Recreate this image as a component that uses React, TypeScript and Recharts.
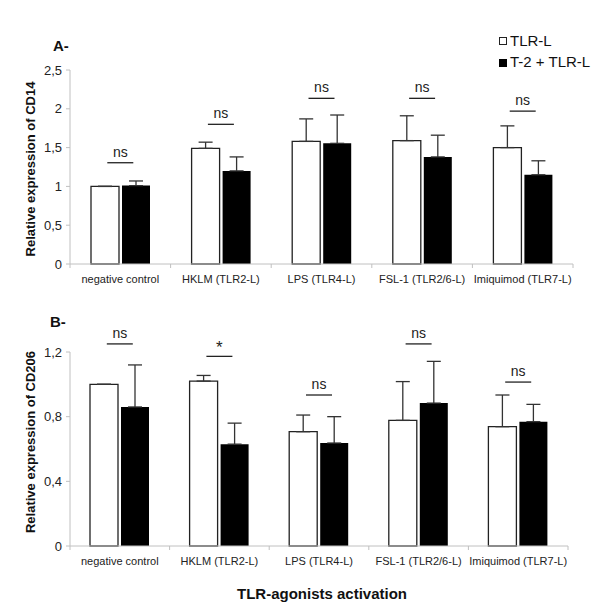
import React from 'react'
import { BarChart, Bar, XAxis, YAxis, ErrorBar, ReferenceDot } from 'recharts'

const categories = ['negative control', 'HKLM (TLR2-L)', 'LPS (TLR4-L)', 'FSL-1 (TLR2/6-L)', 'Imiquimod (TLR7-L)']

// panel A - CD14
const cd14Tlr = [1.0, 1.49, 1.58, 1.59, 1.5]
const cd14TlrErr = [0, 0.08, 0.29, 0.32, 0.28]
const cd14T2 = [1.01, 1.2, 1.555, 1.38, 1.15]
const cd14T2Err = [0.06, 0.18, 0.365, 0.28, 0.18]
const cd14Sig = ['ns', 'ns', 'ns', 'ns', 'ns']
const cd14SigLevel = [1.305, 1.8, 2.135, 2.135, 1.97]
const cd14Ticks = [0, 0.5, 1, 1.5, 2, 2.5]

// panel B - CD206
const cd206Tlr = [1.0, 1.02, 0.707, 0.777, 0.738]
const cd206TlrErr = [0, 0.035, 0.103, 0.24, 0.196]
const cd206T2 = [0.86, 0.63, 0.637, 0.884, 0.769]
const cd206T2Err = [0.26, 0.13, 0.163, 0.258, 0.107]
const cd206Sig = ['ns', '*', 'ns', 'ns', 'ns']
const cd206SigLevel = [1.25, 1.173, 0.934, 1.25, 1.014]
const cd206Ticks = [0, 0.4, 0.8, 1.2]

const FONT = '"Liberation Sans", Arial, sans-serif'

const buildRows = (tlr: number[], tlrErr: number[], t2: number[], t2Err: number[]) =>
  categories.map((name, i) => ({
    name,
    tlr: tlr[i],
    tlrErr: [0, tlrErr[i]],
    t2: t2[i],
    t2Err: [0, t2Err[i]],
  }))

const commaFmt = (v: number) => String(v).replace('.', ',')

const XTick = (props: any) => {
  const { x, y, payload, index } = props
  const half = payload?.offset || 50
  const top = y - 11
  return (
    <g>
      <line x1={x - half} x2={x - half} y1={top} y2={top + 4} stroke="#c0c0c0" />
      {index === categories.length - 1 && (
        <line x1={x + half} x2={x + half} y1={top} y2={top + 4} stroke="#c0c0c0" />
      )}
      <text x={x} y={y} dy={8} textAnchor="middle" fontSize={11} fill="#222">
        {payload.value}
      </text>
    </g>
  )
}

const SigMark = (label: string) => (props: any) => {
  const { cx, cy } = props
  const star = label === '*'
  return (
    <g>
      <line x1={cx - 13} x2={cx + 13} y1={cy} y2={cy} stroke="#222" strokeWidth={1.3} />
      <text x={cx} y={cy - 11} dy={star ? 8 : 5} textAnchor="middle" fontSize={star ? 17 : 14} fill="#222">
        {label}
      </text>
    </g>
  )
}

function Panel({ rows, ticks, sig, sigLevel, margin, height }: any) {
  return (
    <BarChart width={600} height={height} data={rows} margin={margin} barSize={28} barGap={3}>
      <XAxis
        dataKey="name"
        interval={0}
        height={30}
        tickSize={4}
        tickMargin={7}
        tickLine={false}
        axisLine={{ stroke: '#c0c0c0' }}
        tick={<XTick />}
      />
      <YAxis
        width={70}
        domain={[ticks[0], ticks[ticks.length - 1]]}
        ticks={ticks}
        tickFormatter={commaFmt}
        tickSize={4}
        tickMargin={4}
        tickLine={{ stroke: '#c0c0c0' }}
        axisLine={{ stroke: '#c0c0c0' }}
        tick={{ fontSize: 13, fill: '#222' }}
      />
      <Bar dataKey="tlr" fill="#fff" stroke="#222" strokeWidth={1.3} isAnimationActive={false}>
        <ErrorBar dataKey="tlrErr" width={7} stroke="#333" strokeWidth={1.3} direction="y" />
      </Bar>
      <Bar dataKey="t2" fill="#000" isAnimationActive={false}>
        <ErrorBar dataKey="t2Err" width={7} stroke="#333" strokeWidth={1.3} direction="y" />
      </Bar>
      {categories.map((c, i) => (
        <ReferenceDot key={c} x={c} y={sigLevel[i]} ifOverflow="visible" shape={SigMark(sig[i])} />
      ))}
    </BarChart>
  )
}

const abs = (extra: React.CSSProperties): React.CSSProperties => ({ position: 'absolute', whiteSpace: 'nowrap', ...extra })

export default function App() {
  const rowsA = buildRows(cd14Tlr, cd14TlrErr, cd14T2, cd14T2Err)
  const rowsB = buildRows(cd206Tlr, cd206TlrErr, cd206T2, cd206T2Err)
  return (
    <div style={{ position: 'absolute', left: 0, top: 0, width: 600, height: 610, background: '#fff', fontFamily: FONT, color: '#111' }}>
      <div style={abs({ left: 0, top: 0 })}>
        <Panel rows={rowsA} ticks={cd14Ticks} sig={cd14Sig} sigLevel={cd14SigLevel}
          margin={{ top: 70, right: 27, left: 0, bottom: 6 }} height={300} />
      </div>
      <div style={abs({ left: 0, top: 300 })}>
        <Panel rows={rowsB} ticks={cd206Ticks} sig={cd206Sig} sigLevel={cd206SigLevel}
          margin={{ top: 52, right: 32, left: 0, bottom: 34 }} height={310} />
      </div>

      <div style={abs({ left: 53, top: 37, fontSize: 15, fontWeight: 'bold' })}>A-</div>
      <div style={abs({ left: 50, top: 313, fontSize: 15, fontWeight: 'bold' })}>B-</div>

      <div style={abs({ left: 30, top: 169, fontSize: 13, fontWeight: 'bold', transform: 'translate(-50%, -50%) rotate(-90deg)' })}>
        Relative expression of CD14
      </div>
      <div style={abs({ left: 30, top: 442, fontSize: 13, fontWeight: 'bold', transform: 'translate(-50%, -50%) rotate(-90deg)' })}>
        Relative expression of CD206
      </div>

      <div style={abs({ left: 322, top: 593, fontSize: 15, fontWeight: 'bold', transform: 'translate(-50%, -50%)' })}>
        TLR-agonists activation
      </div>

      <div style={abs({ left: 499, top: 37, width: 6, height: 6, border: '1px solid #222', background: '#fff' })} />
      <div style={abs({ left: 510, top: 32, fontSize: 15, lineHeight: '18px' })}>TLR-L</div>
      <div style={abs({ left: 499, top: 59, width: 8, height: 8, background: '#000' })} />
      <div style={abs({ left: 510, top: 53, fontSize: 15, lineHeight: '18px' })}>T-2 + TLR-L</div>
    </div>
  )
}
